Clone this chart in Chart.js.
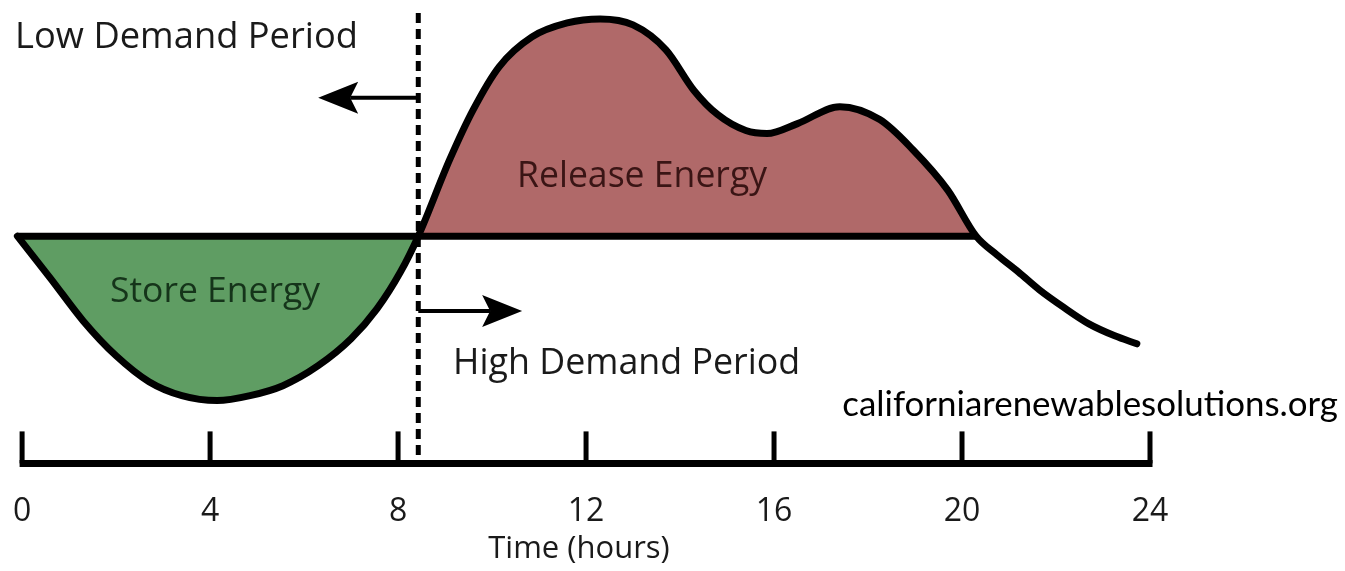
<!DOCTYPE html>
<html>
<head>
<meta charset="utf-8">
<script src="https://cdn.jsdelivr.net/npm/chart.js@4.4.1/dist/chart.umd.min.js"></script>
<style>
html, body { margin: 0; padding: 0; background: #fff; }
</style>
</head>
<body>
<canvas id="myChart" width="1345" height="571"></canvas>
<script>
// hour of the day and demand relative to the daily average (0 = average)
const hours  = [-0.1, 0.6, 1.3, 2.0, 2.7, 3.4, 4.15, 4.85, 5.55, 6.3, 7.0, 7.55, 8.05, 8.43,
                9.1, 9.6, 10.15, 10.85, 11.6, 12.3, 13.0, 13.7, 14.3, 14.8, 15.4, 15.85, 16.5, 17.4, 18.25, 18.95, 19.7, 20.3,
                20.75, 21.2, 21.65, 22.15, 22.7, 23.25, 23.72];
const demand = [0, -4.2, -8.5, -12.0, -14.6, -16.0, -16.5, -16.0, -15.0, -13.0, -10.3, -7.3, -3.6, 0,
                7.7, 12.7, 17.0, 20.0, 21.4, 21.8, 21.2, 18.7, 14.6, 12.2, 10.6, 10.3, 11.3, 13.0, 11.7, 8.7, 4.6, 0,
                -1.9, -3.6, -5.4, -7.1, -8.8, -10.0, -10.8];
const tickHours = [0, 4, 8, 12, 16, 20, 24];
const splitHour = 8.43;     // low / high demand boundary
const shadeEndHour = 20.3;  // where demand drops back to average

const curve = hours.map((h, i) => ({x: h, y: demand[i]}));
const shaded = curve.filter(p => p.x <= shadeEndHour);
const baseline = [{x: hours[0], y: 0}, {x: shadeEndHour, y: 0}];

const FONT = "'Open Sans', 'DejaVu Sans', sans-serif";

function fitFont(ctx, text, width, family){
	ctx.font = "100px " + family;
	return 100 * width / ctx.measureText(text).width;
}

function arrow(ctx, x1, x2, y){
	let dir = x2 > x1 ? 1 : -1;
	let headLen = 40, half = 16, notch = 8;
	ctx.beginPath();
	ctx.lineWidth = 4;
	ctx.moveTo(x1, y);
	ctx.lineTo(x2 - dir * (headLen - notch), y);
	ctx.stroke();
	ctx.beginPath();
	ctx.moveTo(x2, y);
	ctx.lineTo(x2 - dir * headLen, y - half);
	ctx.lineTo(x2 - dir * (headLen - notch), y);
	ctx.lineTo(x2 - dir * headLen, y + half);
	ctx.closePath();
	ctx.fill();
}

const diagram = {
	id: "diagram",
	afterDatasetsDraw(chart){
		const ctx = chart.ctx;
		const xs = chart.scales.x, ys = chart.scales.y;
		const bottom = chart.chartArea.bottom;
		ctx.save();
		ctx.strokeStyle = "#000";
		ctx.fillStyle = "#000";

		// time axis with upward tick marks
		ctx.lineWidth = 7;
		ctx.beginPath();
		ctx.moveTo(xs.getPixelForValue(0) - 2.5, bottom);
		ctx.lineTo(xs.getPixelForValue(24) + 2.5, bottom);
		ctx.stroke();
		ctx.lineWidth = 5;
		tickHours.forEach(h => {
			let px = xs.getPixelForValue(h);
			ctx.beginPath();
			ctx.moveTo(px, bottom - 32);
			ctx.lineTo(px, bottom);
			ctx.stroke();
		});

		// dashed divider
		ctx.setLineDash([10, 6]);
		ctx.lineWidth = 5;
		ctx.beginPath();
		ctx.moveTo(xs.getPixelForValue(splitHour), ys.getPixelForValue(22.4));
		ctx.lineTo(xs.getPixelForValue(splitHour), bottom);
		ctx.stroke();
		ctx.setLineDash([]);

		// arrows
		arrow(ctx, xs.getPixelForValue(splitHour), xs.getPixelForValue(6.3), ys.getPixelForValue(13.9));
		arrow(ctx, xs.getPixelForValue(splitHour), xs.getPixelForValue(10.64), ys.getPixelForValue(-7.5));

		// labels
		const labels = [
			{text: "Low Demand Period", h: -0.15, v: 18.9, w: 343, color: "#1a1a1a", align: "left", family: FONT},
			{text: "High Demand Period", h: 9.17, v: -13.8, w: 347, color: "#1a1a1a", align: "left", family: FONT},
			{text: "Store Energy", h: 1.87, v: -6.6, w: 210, color: "#15341a", align: "left", family: FONT},
			{text: "Release Energy", h: 10.53, v: 4.9, w: 250, color: "#3a1515", align: "left", family: FONT},
			{text: "californiarenewablesolutions.org", h: 28.0, v: -18.0, w: 496, color: "#000", align: "right", family: "Lato, 'Open Sans', sans-serif"}
		];
		ctx.textBaseline = "alphabetic";
		labels.forEach(l => {
			let size = fitFont(ctx, l.text, l.w, l.family);
			ctx.font = size.toFixed(1) + "px " + l.family;
			ctx.fillStyle = l.color;
			ctx.textAlign = l.align;
			ctx.fillText(l.text, xs.getPixelForValue(l.h), ys.getPixelForValue(l.v));
		});
		ctx.restore();
	}
};

new Chart(document.getElementById("myChart"), {
	type: "line",
	data: {
		datasets: [
			{
				label: "Demand",
				data: curve,
				borderColor: "#000",
				borderWidth: 7,
				borderCapStyle: "round",
				pointRadius: 0,
				fill: false,
				cubicInterpolationMode: "monotone",
				order: 0
			},
			{
				label: "Average",
				data: baseline,
				borderColor: "#000",
				borderWidth: 7,
				pointRadius: 0,
				fill: false,
				order: 1
			},
			{
				label: "Shaded",
				data: shaded,
				borderWidth: 0,
				borderColor: "rgba(0,0,0,0)",
				pointRadius: 0,
				cubicInterpolationMode: "monotone",
				fill: {target: "origin", above: "#b06969", below: "#5f9d63"},
				order: 2
			}
		]
	},
	options: {
		responsive: false,
		animation: false,
		layout: {padding: {left: 8, right: 195, top: 5, bottom: 0}},
		plugins: {legend: {display: false}, tooltip: {enabled: false}},
		scales: {
			x: {
				type: "linear",
				min: -0.3,
				max: 24,
				afterBuildTicks: scale => { scale.ticks = tickHours.map(v => ({value: v})); },
				grid: {display: false, drawTicks: true, tickLength: 29},
				border: {display: false},
				ticks: {font: {family: FONT, size: 32}, color: "#1a1a1a", padding: 0, maxRotation: 0, autoSkip: false},
				title: {display: true, text: "Time (hours)", font: {family: FONT, size: 31}, color: "#1a1a1a", padding: {top: 0, bottom: 3}}
			},
			y: {
				min: -22.8,
				max: 23.2,
				display: false
			}
		}
	},
	plugins: [diagram]
});
</script>
</body>
</html>
